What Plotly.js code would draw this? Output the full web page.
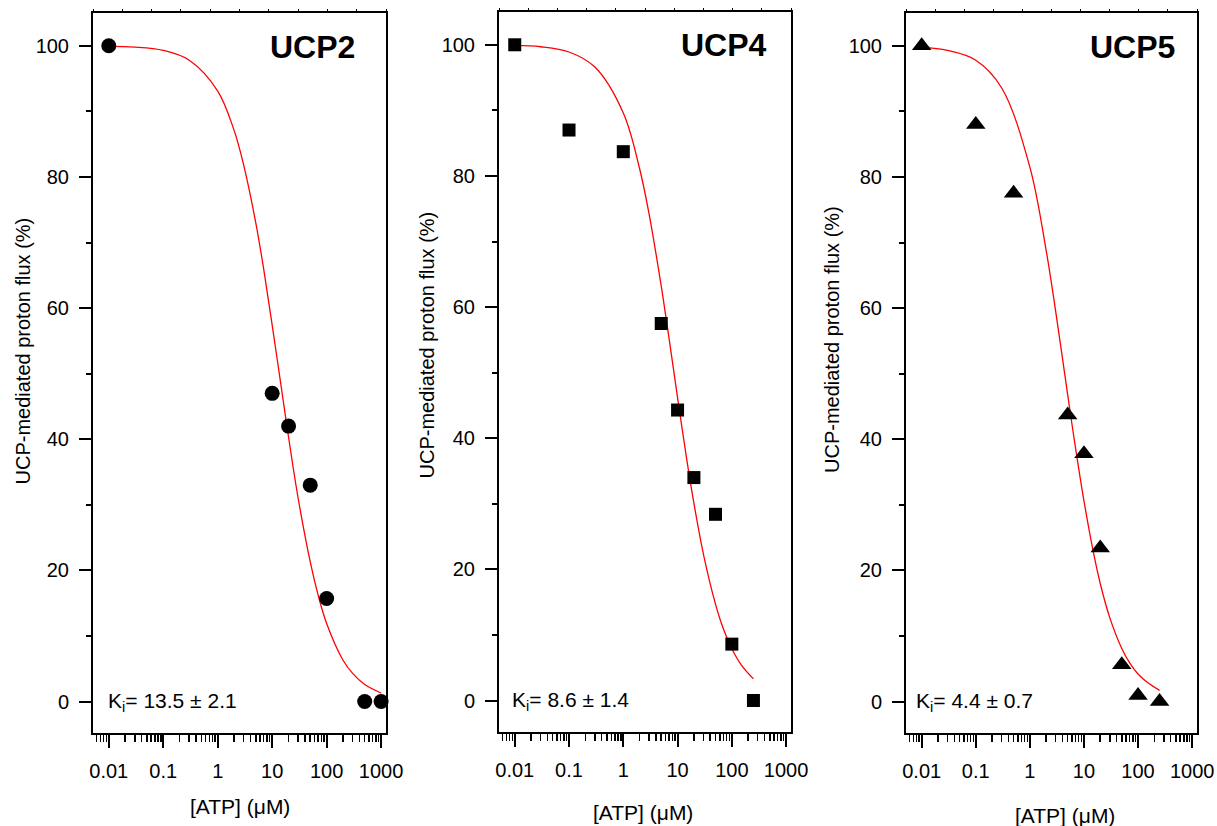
<!DOCTYPE html>
<html>
<head>
<meta charset="utf-8">
<script src="https://cdn.plot.ly/plotly-3.0.1.min.js"></script>
<style>html,body{margin:0;padding:0;background:#fff;}#chart{width:1217px;height:826px;}</style>
</head>
<body>
<div id="chart"></div>
<script>
// ---- data ----
const panelNames = ["UCP2", "UCP4", "UCP5"];
const kiLabels = ["K<sub>i</sub>= 13.5 ± 2.1", "K<sub>i</sub>= 8.6 ± 1.4", "K<sub>i</sub>= 4.4 ± 0.7"];

const ucp2X = [0.01, 10, 20, 50, 100, 500, 1000];
const ucp2Y = [100, 47, 42, 33, 15.7, 0, 0];
const ucp4X = [0.01, 0.1, 1, 5, 10, 20, 50, 100, 250];
const ucp4Y = [100, 87, 83.7, 57.5, 44.3, 34, 28.4, 8.6, 0];
const ucp5X = [0.01, 0.1, 0.5, 5, 10, 20, 50, 100, 250];
const ucp5Y = [100, 88, 77.5, 43.7, 37.8, 23.4, 5.6, 0.9, 0];

// fitted curves
const fit2X = [0.01, 0.03, 0.1, 0.3, 1, 2, 3, 5, 7, 10, 15, 20, 30, 50, 70, 100, 200, 300, 500, 1000];
const fit2Y = [99.9, 99.8, 99.3, 97.8, 93.1, 87.1, 81.8, 73.0, 65.9, 57.4, 47.4, 40.3, 31.0, 21.3, 16.2, 11.9, 6.3, 4.3, 2.6, 1.3];
const fit4X = [0.01, 0.03, 0.1, 0.3, 1, 2, 3, 5, 7, 10, 15, 20, 30, 50, 70, 100, 150, 250];
const fit4Y = [99.9, 99.7, 98.9, 96.6, 89.6, 81.1, 74.1, 63.2, 55.1, 46.2, 36.4, 30.1, 22.3, 14.7, 10.9, 7.9, 5.4, 3.3];
const fit5X = [0.01, 0.03, 0.1, 0.3, 1, 2, 3, 5, 7, 10, 15, 20, 30, 50, 70, 100, 150, 250];
const fit5Y = [99.8, 99.3, 97.8, 93.6, 81.5, 68.8, 59.5, 46.8, 38.6, 30.6, 22.7, 18.0, 12.8, 8.1, 5.9, 4.2, 2.9, 1.7];

const xTickVals = [0.01, 0.1, 1, 10, 100, 1000];
const xTickText = ["0.01", "0.1", "1", "10", "100", "1000"];
const yTickVals = [0, 20, 40, 60, 80, 100];
const yTickText = ["0", "20", "40", "60", "80", "100"];

const xTitle = "[ATP] (μM)";
const yTitle = "UCP-mediated proton flux (%)";

// ---- layout geometry (pixels) ----
const W = 1217, H = 826;
const FONT = "Arial, 'Liberation Sans', Helvetica, sans-serif";
const boxes = [
  {l: 93, r: 386, t: 13, b: 733},
  {l: 499, r: 791, t: 12, b: 732},
  {l: 906, r: 1197, t: 13, b: 733}
];
const px = v => v / W;
const py = v => 1 - v / H;

const pts = [[ucp2X, ucp2Y, "circle", 15], [ucp4X, ucp4Y, "square", 13], [ucp5X, ucp5Y, "triangle-up", 17]];
const fits = [[fit2X, fit2Y], [fit4X, fit4Y], [fit5X, fit5Y]];

const traces = [];
const layout = {
  width: W, height: H,
  margin: {l: 0, r: 0, t: 0, b: 0},
  paper_bgcolor: "#fff", plot_bgcolor: "#fff",
  showlegend: false,
  font: {family: FONT, color: "#000", size: 20},
  annotations: []
};

for (let i = 0; i < 3; i++) {
  const n = i + 1;
  const xa = n === 1 ? "x" : "x" + n;
  const ya = n === 1 ? "y" : "y" + n;
  const topId = "x" + (n + 3);
  const b = boxes[i];

  traces.push({
    type: "scatter", mode: "lines", x: fits[i][0], y: fits[i][1],
    xaxis: xa, yaxis: ya, line: {color: "#ff0000", width: 1.3, shape: "spline"},
    hoverinfo: "skip"
  });
  traces.push({
    type: "scatter", mode: "markers", x: pts[i][0], y: pts[i][1],
    xaxis: xa, yaxis: ya, cliponaxis: false,
    marker: {symbol: pts[i][2], size: pts[i][3], color: "#000", line: {width: 0}}
  });
  traces.push({type: "scatter", x: [], y: [], xaxis: topId, yaxis: ya, hoverinfo: "skip"});

  layout["xaxis" + (n === 1 ? "" : n)] = {
    type: "log", domain: [px(b.l), px(b.r)], range: [-2.29, 3.09], anchor: ya,
    tickmode: "array", tickvals: xTickVals, ticktext: xTickText,
    ticks: "outside", ticklen: 13, tickwidth: 2, tickcolor: "#000",
    ticklabelstandoff: 6,
    minor: {dtick: "D1", ticks: "outside", ticklen: 7, tickwidth: 1.5, tickcolor: "#000", showgrid: false},
    showline: true, mirror: true, linewidth: 2, linecolor: "#000",
    showgrid: false, zeroline: false, tickfont: {size: 20, family: FONT}, fixedrange: true
  };
  layout["yaxis" + (n === 1 ? "" : n)] = {
    domain: [py(b.b), py(b.t)], range: [-4.8, 105], anchor: xa,
    tickmode: "array", tickvals: yTickVals, ticktext: yTickText,
    ticks: "outside", ticklen: 12, tickwidth: 2, tickcolor: "#000",
    ticklabelstandoff: 6,
    minor: {dtick: 10, tick0: 0, ticks: "outside", ticklen: 5, tickwidth: 2, tickcolor: "#000", showgrid: false},
    showline: true, mirror: true, linewidth: 2, linecolor: "#000",
    showgrid: false, zeroline: false, tickfont: {size: 20, family: FONT}, fixedrange: true
  };
  layout["xaxis" + (n + 3)] = {
    overlaying: xa, anchor: ya, side: "top", range: [0, 10], dtick: 1,
    ticks: "outside", ticklen: 3, tickwidth: 1, tickcolor: "#000",
    showticklabels: false, showline: false, showgrid: false, zeroline: false, fixedrange: true
  };
}

// panel labels
const nameRight = [357, 769, 1177];
const nameMidY = [47, 45, 47];
const kiLeft = [106, 510, 914];
const xTitleX = [239.5, 642.5, 1065];
const xTitleY = [806, 812, 815];
const yTitleX = [22.5, 426.5, 832];
const yTitleY = [351, 345, 340];

for (let i = 0; i < 3; i++) {
  const ya = i === 0 ? "y" : "y" + (i + 1);
  layout.annotations.push({
    xref: "paper", yref: "paper", x: px(nameRight[i]), y: py(nameMidY[i]),
    xanchor: "right", yanchor: "middle", showarrow: false,
    text: "<b>" + panelNames[i] + "</b>", font: {size: 32, family: FONT, color: "#000"}
  });
  layout.annotations.push({
    xref: "paper", yref: ya, x: px(kiLeft[i]), y: 0,
    xanchor: "left", yanchor: "middle", showarrow: false,
    text: kiLabels[i], font: {size: 21, family: FONT, color: "#000"}
  });
  layout.annotations.push({
    xref: "paper", yref: "paper", x: px(xTitleX[i]), y: py(xTitleY[i]),
    xanchor: "center", yanchor: "middle", showarrow: false,
    text: xTitle, font: {size: 21, family: FONT, color: "#000"}
  });
  layout.annotations.push({
    xref: "paper", yref: "paper", x: px(yTitleX[i]), y: py(yTitleY[i]),
    xanchor: "center", yanchor: "middle", showarrow: false, textangle: -90,
    text: yTitle, font: {size: 20, family: FONT, color: "#000"}
  });
}

Plotly.newPlot("chart", traces, layout, {staticPlot: true, displayModeBar: false});
</script>
</body>
</html>
